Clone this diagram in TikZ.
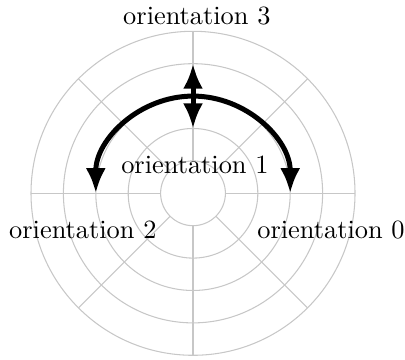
\documentclass[tikz,border=0pt]{standalone}
\usetikzlibrary{arrows.meta}
\begin{document}
\begin{tikzpicture}[x=12.29pt,y=12.29pt,
  gridline/.style={draw=black!22,line width=0.4pt},
  bigarrow/.style={line width=1.9pt,{Latex[length=9.5pt,width=7.6pt]}-{Latex[length=9.5pt,width=7.6pt]}},
  lbl/.style={anchor=base,inner sep=0pt,font=\normalsize}]
\useasboundingbox (-5.957,-5.145) rectangle (6.543,5.966);
\coordinate (c) at (0,0);
\foreach \r in {1,...,5} \draw[gridline] (c) circle (\r);
\foreach \a in {0,45,...,315} \draw[gridline] (\a:1) -- (\a:5);
\coordinate (e0) at (3,0);
\coordinate (e2) at (-3,0);
\coordinate (v1) at (0,2);
\coordinate (v3) at (0,4);
\draw[bigarrow] (e0) arc (0:180:3);
\draw[bigarrow] (v1) -- (v3);
\node[lbl] (o3) at (0.12,5.22) {orientation 3};
\node[lbl] (o1) at (0.06,0.62) {orientation 1};
\node[lbl] (o2) at (-3.40,-1.38) {orientation 2};
\node[lbl] (o0) at (4.26,-1.38) {orientation 0};
\end{tikzpicture}
\end{document}
